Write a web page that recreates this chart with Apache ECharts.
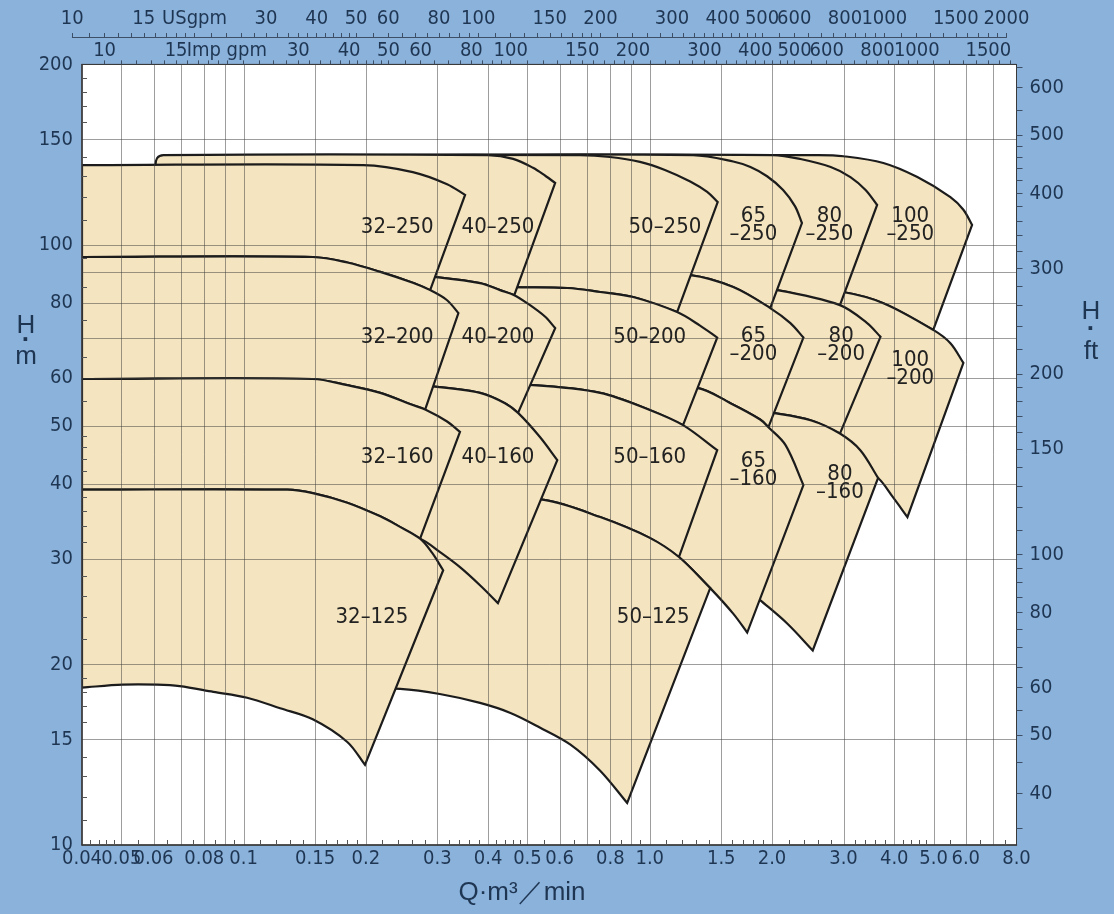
<!DOCTYPE html>
<html>
<head>
<meta charset="utf-8">
<script src="https://cdn.jsdelivr.net/npm/echarts@6/dist/echarts.min.js"></script>
<style>
html,body{margin:0;padding:0;background:#8bb2db;}
#c{width:1114px;height:914px;}
</style>
</head>
<body>
<div id="c"></div>
<script>
// ---------------- axis tick / label values ----------------
const qLabelsA = [0.04,0.06,0.1,0.2,0.4,0.6,1,2,4,6];
const qLabelsB = [0.05,0.08,0.15,0.3,0.5,0.8,1.5,3,5,8];
const qGrid = [0.05,0.06,0.07,0.08,0.09,0.1,0.15,0.2,0.3,0.4,0.5,0.6,0.7,0.8,0.9,1,1.5,2,3,4,5,6,7];
const qMinor = [0.042,0.044,0.046,0.048,0.055,0.065,0.075,0.085,0.095,0.11,0.12,0.13,0.14,0.16,0.17,0.18,0.19,0.22,0.24,0.26,0.28,0.32,0.34,0.36,0.38,0.42,0.44,0.46,0.48,0.55,0.65,0.75,0.85,0.95,1.1,1.2,1.3,1.4,1.6,1.7,1.8,1.9,2.2,2.4,2.6,2.8,3.2,3.4,3.6,3.8,4.2,4.4,4.6,4.8,5.5,6.5,7.5];
const hLabels = [10,15,20,30,40,50,60,80,100,150,200];
const hGrid = [15,20,30,40,50,60,70,80,90,100,150];
const hMinor = [11,12,13,14,16,17,18,19,22,24,26,28,32,34,36,38,42,44,46,48,55,65,75,85,95,110,120,130,140,160,170,180,190];
const ftLabels = [40,50,60,80,100,150,200,300,400,500,600];
const ftTicks = [35,40,45,50,55,60,65,70,75,80,85,90,95,100,110,120,130,140,150,160,170,180,190,200,220,240,260,280,300,320,340,360,380,400,420,440,460,480,500,550,600,650];
const usLabels = [10,15,20,30,40,50,60,80,100,150,200,300,400,500,600,800,1000,1500,2000];
const impLabels = [10,15,20,30,40,50,60,80,100,150,200,300,400,500,600,800,1000,1500];
const gpmMinor = [11,12,13,14,16,17,18,19,22,24,26,28,32,34,36,38,42,44,46,48,55,65,70,75,85,90,95,110,120,130,140,160,170,180,190,220,240,260,280,320,340,360,380,420,440,460,480,550,650,700,750,850,900,950,1100,1200,1300,1400,1600,1700,1800,1900];

// ---------------- pump range outlines  [Q m3/min, H m] ----------------
// 32 column
const top32_250 = [[0.04,135.9],[0.197,135.9],[0.261,132.3],[0.317,126.3],[0.351,121.2]];
const end32_250 = [0.288,84.1];
const top32_200 = [[0.04,95.5],[0.148,95.5],[0.180,93.5],[0.217,90.2],[0.261,86.5],[0.288,84.1],[0.317,80.9],[0.338,77.0]];
const end32_200 = [0.280,53.2];
const top32_160 = [[0.04,59.8],[0.148,59.8],[0.180,58.4],[0.217,56.7],[0.261,54.1],[0.280,53.2],[0.317,50.8],[0.341,48.8]];
const end32_160 = [0.272,32.4];
const top32_125 = [[0.04,39.1],[0.128,39.1],[0.148,38.6],[0.180,37.2],[0.217,35.3],[0.239,34.1],[0.272,32.4],[0.291,30.7],[0.310,28.7]];
const bot32_125 = [[0.199,13.6],[0.180,14.85],[0.148,16.2],[0.123,16.9],[0.102,17.6],[0.0842,18.0],[0.0696,18.4],[0.0612,18.5],[0.0504,18.5],[0.04,18.3]];
// 40 column
const top40_250 = [[0.0605,134],[0.0612,139.5],[0.0635,141.2],[0.40,141.2],[0.461,139.2],[0.516,134.5],[0.555,130.2],[0.585,126.9]];
const end40_250 = [0.464,82.5];
const top40_200 = [[0.12,90.5],[0.25,89.2],[0.293,88.5],[0.382,86.4],[0.428,84.1],[0.464,82.5],[0.499,80.0],[0.552,76.0],[0.585,72.7]];
const end40_200 = [0.474,52.5];
const top40_160 = [[0.12,59.5],[0.2,59.0],[0.293,58.1],[0.382,56.7],[0.44,54.5],[0.474,52.5],[0.536,47.9],[0.592,43.8]];
const bot40_160 = [[0.423,25.3],[0.382,27.1],[0.341,29.05],[0.304,30.8],[0.272,32.4],[0.2,34.5],[0.12,35.5]];
// 50 column
const top50_250 = [[0.1,141.2],[0.674,141.2],[0.798,140.2],[0.946,137.6],[1.09,133.4],[1.258,127.6],[1.385,122.6],[1.47,117.9]];
const end50_250 = [1.168,77.3];
const top50_200 = [[0.1,86],[0.3,86],[0.46,85.1],[0.626,84.8],[0.755,83.5],[0.91,81.9],[1.168,77.3],[1.33,73.4],[1.466,70.1]];
const end50_200 = [1.208,50.1];
const top50_160 = [[0.1,59],[0.3,59],[0.516,58.4],[0.755,56.7],[1.0,53.1],[1.208,50.1],[1.466,45.5]];
const end50_160 = [1.18,30.2];
const top50_125 = [[0.15,38.8],[0.3,38.5],[0.549,37.6],[0.755,35.2],[1.0,32.5],[1.18,30.2],[1.409,26.8]];
const bot50_125 = [[0.88,11.75],[0.755,13.3],[0.638,14.7],[0.536,15.7],[0.454,16.6],[0.382,17.25],[0.304,17.85],[0.243,18.2],[0.15,18.4]];
// 65 column
const top65_250 = [[0.2,141.2],[1.28,141.2],[1.605,137.8],[1.77,134.9],[1.945,130.2],[2.13,123.5],[2.28,116.0],[2.37,108.8]];
const end65_250 = [1.98,78.5];
const top65_200 = [[0.2,90],[0.8,90],[1.258,89.1],[1.605,85.1],[1.98,78.5],[2.22,74.1],[2.39,70.1]];
const end65_200 = [1.96,49.7];
const top65_160 = [[0.2,59],[0.8,59],[1.309,57.8],[1.58,54.5],[1.87,51.2],[1.96,49.7],[2.16,46.4],[2.39,39.8]];
const bot65_160 = [[1.738,22.6],[1.605,24.3],[1.409,26.8],[1.18,30.2],[1.0,32.5],[0.755,35.2],[0.549,37.6],[0.2,38]];
// 80 column
const top80_250 = [[0.4,141.2],[2.01,141.2],[2.35,139.1],[2.79,134.9],[3.12,129.8],[3.40,123.5],[3.63,116.6]];
const end80_250 = [2.94,79.4];
const top80_200 = [[0.4,86],[1.5,86],[2.06,84.1],[2.94,79.4],[3.43,74.1],[3.70,70.3]];
const end80_200 = [2.94,48.5];
const top80_160 = [[0.4,54],[1.5,54],[2.01,52.5],[2.5,51.0],[2.94,48.5],[3.30,45.5],[3.65,40.9]];
const bot80_160 = [[2.52,21.1],[2.18,23.4],[1.87,25.6],[1.6,28.0],[1.3,31.0],[1.0,33.5],[0.4,35]];
// 100 column
const top100_250 = [[0.6,141.2],[2.6,141.2],[3.0,140.6],[3.76,137.0],[4.56,129.8],[5.50,120.2],[5.92,114.5],[6.22,108.0]];
const end100_250 = [4.99,72.2];
const top100_200 = [[0.6,86],[2.0,86],[2.99,83.5],[3.76,80.0],[4.99,72.2],[5.5,68.6],[5.92,63.6]];
const bot100_200 = [[4.31,35.2],[3.97,38.0],[3.65,40.9],[3.0,45],[2.0,49],[0.6,50]];

// ---------------- model labels ----------------
const labelText = ['32–250','40–250','50–250','65\n–250','80\n–250','100\n–250',
                   '32–200','40–200','50–200','65\n–200','80\n–200','100\n–200',
                   '32–160','40–160','50–160','65\n–160','80\n–160',
                   '32–125','50–125'];
const labelQ = [0.239,0.423,1.09,1.80,2.77,4.38, 0.239,0.423,1.0,1.80,2.96,4.38, 0.239,0.423,1.0,1.80,2.94, 0.207,1.02];
const labelH = [107.2,107.2,107.2,108,108,108, 70.3,70.3,70.3,68.1,68.1,62.1, 44.2,44.2,44.2,42.2,40.1, 24.0,24.0];

// ---------------- build polygons (draw order: right columns first, upper rows first) ----------------
function below(end, lowerTop){ return [end].concat(lowerTop.filter(p => p[0] < end[0]).reverse()); }
const models = [
  {top: top100_250, bot: below(end100_250, top100_200)},
  {top: top100_200, bot: bot100_200},
  {top: top80_250, bot: below(end80_250, top80_200)},
  {top: top80_200, bot: below(end80_200, top80_160)},
  {top: top80_160, bot: bot80_160},
  {top: top65_250, bot: below(end65_250, top65_200)},
  {top: top65_200, bot: below(end65_200, top65_160)},
  {top: top65_160, bot: bot65_160},
  {top: top50_250, bot: below(end50_250, top50_200)},
  {top: top50_200, bot: below(end50_200, top50_160)},
  {top: top50_160, bot: below(end50_160, top50_125)},
  {top: top50_125, bot: bot50_125},
  {top: top40_250, bot: below(end40_250, top40_200)},
  {top: top40_200, bot: below(end40_200, top40_160)},
  {top: top40_160, bot: bot40_160},
  {top: top32_250, bot: below(end32_250, top32_200)},
  {top: top32_200, bot: below(end32_200, top32_160)},
  {top: top32_160, bot: below(end32_160, top32_125)},
  {top: top32_125, bot: bot32_125}
];

const IMP = 219.969, FT = 0.3048;
const BG = '#8bb2db', TAN = '#f4e4bf', LINE = '#1c1c1c', GRIDC = 'rgba(60,60,60,0.5)';
const TXT = '#1f3653', AX = '#3a3a3a';
const NARROW = "'DejaVu Sans Condensed','Liberation Sans',sans-serif";
const SANS = "'Liberation Sans','DejaVu Sans',sans-serif";

function smoothPath(pts){
  let d = '';
  const n = pts.length;
  const unit = (a,b)=>{const dx=b[0]-a[0], dy=b[1]-a[1]; const l=Math.hypot(dx,dy)||1; return [dx/l, dy/l];};
  for (let i=0;i<n-1;i++){
    const p1=pts[i], p2=pts[i+1];
    const len = Math.hypot(p2[0]-p1[0], p2[1]-p1[1]);
    const t1 = i>0 ? unit(pts[i-1], p2) : unit(p1,p2);
    const t2 = i+2<n ? unit(p1, pts[i+2]) : unit(p1,p2);
    const c1=[p1[0]+t1[0]*len/3, p1[1]+t1[1]*len/3];
    const c2=[p2[0]-t2[0]*len/3, p2[1]-t2[1]*len/3];
    d += ' C'+c1[0].toFixed(2)+' '+c1[1].toFixed(2)+' '+c2[0].toFixed(2)+' '+c2[1].toFixed(2)+' '+p2[0].toFixed(2)+' '+p2[1].toFixed(2);
  }
  return d;
}
const sortNum = a => a.slice().sort((x,y)=>x-y);
function fmtQ(v){ v = +(+v).toPrecision(6); return v >= 1 ? v.toFixed(1) : String(v); }
function fmtGpm(name){ return v => { v = Math.round(v); return v === 20 ? name : String(v); }; }

const labelFont = 20;
function axisCommon(extra){
  return Object.assign({z:10, splitLine:{show:false}, minorTick:{show:false}, minorSplitLine:{show:false}}, extra);
}
function lbl(values, extra){
  return Object.assign({show:true, customValues:values, color:TXT, fontSize:labelFont, fontFamily:NARROW, hideOverlap:false, showMinLabel:true, showMaxLabel:true}, extra);
}

const option = {
  backgroundColor: BG,
  animation: false,
  grid: [
    {left:82, right:97.5, top:64.4, bottom:69, show:true, backgroundColor:'#ffffff', borderColor:AX, borderWidth:1, containLabel:false, outerBoundsMode:'none'},
    {left:72.3, right:107.5, top:37, height:2, show:false, containLabel:false, outerBoundsMode:'none'}
  ],
  xAxis: [
    axisCommon({type:'log', logBase:10, gridIndex:0, position:'bottom', min:0.04, max:8,
      axisLine:{show:true, onZero:false, lineStyle:{color:AX, width:1.5}},
      axisTick:{show:true, inside:true, length:5, customValues:qMinor, lineStyle:{color:'#555'}},
      axisLabel:lbl(qLabelsA, {formatter:fmtQ, margin:4})}),
    axisCommon({type:'log', logBase:10, gridIndex:0, position:'bottom', min:0.04, max:8,
      axisLine:{show:false, onZero:false}, axisTick:{show:false},
      axisLabel:lbl(qLabelsB, {formatter:fmtQ, margin:4})}),
    axisCommon({type:'log', logBase:10, gridIndex:0, position:'top', min:0.04*IMP, max:8*IMP,
      axisLine:{show:true, onZero:false, lineStyle:{color:AX, width:1}},
      axisTick:{show:true, inside:false, length:4, customValues:sortNum(impLabels.concat(gpmMinor)), lineStyle:{color:'#3d4f66'}},
      axisLabel:lbl(impLabels, {formatter:fmtGpm('Imp gpm'), margin:4})}),
    axisCommon({type:'log', logBase:10, gridIndex:1, position:'top', min:10, max:2000,
      axisLine:{show:true, onZero:false, lineStyle:{color:'#3d4f66', width:1}},
      axisTick:{show:true, inside:false, length:4, customValues:sortNum(usLabels.concat(gpmMinor)), lineStyle:{color:'#3d4f66'}},
      axisLabel:lbl(usLabels, {formatter:fmtGpm('USgpm'), margin:8})})
  ],
  yAxis: [
    axisCommon({type:'log', logBase:10, gridIndex:0, position:'left', min:10, max:200,
      axisLine:{show:true, onZero:false, lineStyle:{color:AX, width:1.5}},
      axisTick:{show:true, inside:true, length:5, customValues:hMinor, lineStyle:{color:'#555'}},
      axisLabel:lbl(hLabels, {margin:9})}),
    axisCommon({type:'log', logBase:10, gridIndex:0, position:'right', min:10/FT, max:200/FT,
      axisLine:{show:true, onZero:false, lineStyle:{color:AX, width:1}},
      axisTick:{show:true, inside:false, length:6, customValues:ftTicks, lineStyle:{color:'#3d4f66'}},
      axisLabel:lbl(ftLabels, {margin:13})}),
    {type:'value', gridIndex:1, show:false, min:0, max:1}
  ],
  graphic: [
    {type:'text', x:26, y:326, z:100, style:{text:'H', font:'26px '+SANS, fill:TXT, align:'center', verticalAlign:'middle', textAlign:'center', textVerticalAlign:'middle'}},
    {type:'text', x:26, y:341, z:100, style:{text:'·', font:'bold 26px '+SANS, fill:TXT, align:'center', verticalAlign:'middle', textAlign:'center', textVerticalAlign:'middle'}},
    {type:'text', x:26, y:357, z:100, style:{text:'m', font:'26px '+SANS, fill:TXT, align:'center', verticalAlign:'middle', textAlign:'center', textVerticalAlign:'middle'}},
    {type:'text', x:1091, y:312, z:100, style:{text:'H', font:'26px '+SANS, fill:TXT, align:'center', verticalAlign:'middle', textAlign:'center', textVerticalAlign:'middle'}},
    {type:'text', x:1091, y:330, z:100, style:{text:'·', font:'bold 26px '+SANS, fill:TXT, align:'center', verticalAlign:'middle', textAlign:'center', textVerticalAlign:'middle'}},
    {type:'text', x:1091, y:352, z:100, style:{text:'ft', font:'26px '+SANS, fill:TXT, align:'center', verticalAlign:'middle', textAlign:'center', textVerticalAlign:'middle'}},
    {type:'text', x:522, y:893, z:100, style:{text:'Q·m³／min', font:'26px '+SANS, fill:TXT, align:'center', verticalAlign:'middle', textAlign:'center', textVerticalAlign:'middle'}}
  ],
  series: [
    {
      type:'custom', name:'ranges', xAxisIndex:0, yAxisIndex:0, z:2, silent:true, clip:true,
      data: models.map((m,i)=>[m.top[0][0], m.top[0][1], i]),
      encode:{x:0, y:1},
      renderItem(params, api){
        const m = models[params.dataIndex];
        const t = m.top.map(p=>api.coord(p));
        const b = m.bot.map(p=>api.coord(p));
        const d = 'M'+t[0][0].toFixed(2)+' '+t[0][1].toFixed(2)+smoothPath(t)+' L'+b[0][0].toFixed(2)+' '+b[0][1].toFixed(2)+smoothPath(b)+' Z';
        return {type:'path', z2:params.dataIndex, shape:{pathData:d}, style:{fill:TAN, stroke:LINE, lineWidth:2.2, lineJoin:'miter'}};
      }
    },
    {
      type:'custom', name:'vgrid', xAxisIndex:0, yAxisIndex:0, z:3, silent:true, clip:true,
      data: qGrid.map(v=>[v,10]),
      encode:{x:0, y:1},
      renderItem(params, api){
        const p1 = api.coord([api.value(0), 10]);
        const p2 = api.coord([api.value(0), 200]);
        const x = Math.round(p1[0]) + 0.5;
        return {type:'line', shape:{x1:x, y1:p1[1], x2:x, y2:p2[1]}, style:{stroke:GRIDC, lineWidth:1}};
      }
    },
    {
      type:'custom', name:'hgrid', xAxisIndex:0, yAxisIndex:0, z:3, silent:true, clip:true,
      data: hGrid.map(v=>[0.04,v]),
      encode:{x:0, y:1},
      renderItem(params, api){
        const p1 = api.coord([0.04, api.value(1)]);
        const p2 = api.coord([8, api.value(1)]);
        const y = Math.round(p1[1]) + 0.5;
        return {type:'line', shape:{x1:p1[0], y1:y, x2:p2[0], y2:y}, style:{stroke:GRIDC, lineWidth:1}};
      }
    },
    {
      type:'custom', name:'labels', xAxisIndex:0, yAxisIndex:0, z:4, silent:true,
      data: labelQ.map((q,i)=>[q, labelH[i]]),
      encode:{x:0, y:1},
      renderItem(params, api){
        const p = api.coord([api.value(0), api.value(1)]);
        return {type:'text', x:p[0], y:p[1], style:{text:labelText[params.dataIndex], fill:'#222', font:'22px '+NARROW, align:'center', verticalAlign:'middle', textAlign:'center', textVerticalAlign:'middle', lineHeight:18}};
      }
    }
  ]
};

const chart = echarts.init(document.getElementById('c'), null, {renderer:'canvas'});
chart.setOption(option);
</script>
</body>
</html>
